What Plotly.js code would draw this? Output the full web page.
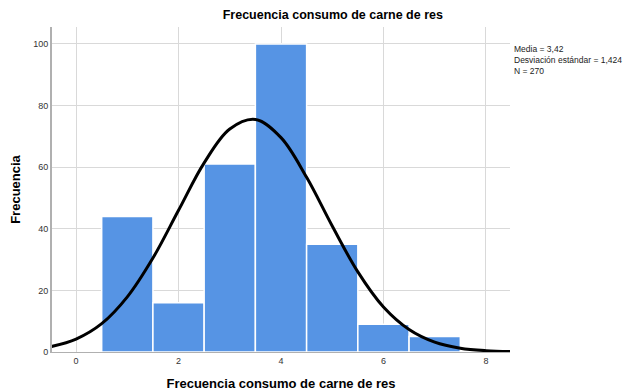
<!DOCTYPE html>
<html><head><meta charset="utf-8">
<script src="https://cdn.plot.ly/plotly-3.0.1.min.js"></script>
<style>html,body{margin:0;padding:0;background:#fff}</style>
</head><body>
<div id="chart" style="width:628px;height:392px"></div>
<script>
// Histogram bins (category value) and frequencies
const binCenters = [1, 2, 3, 4, 5, 6, 7];
const frequencies = [44, 16, 61, 100, 35, 9, 5];
// Fitted normal curve
const curveX = [-0.5, 0, 0.5, 1, 1.5, 2, 2.5, 3, 3.5, 4, 4.5, 5, 5.5, 6, 6.5, 7, 7.5, 8, 8.5];
const curveY = [1.7, 4.2, 9.2, 17.9, 30.5, 46.0, 61.4, 72.4, 75.5, 69.6, 56.7, 40.9, 26.0, 14.6, 7.3, 3.2, 1.25, 0.43, 0.13];
const statsLines = ["Media = 3,42", "Desviación estándar = 1,424", "N = 270"];
const xTicks = [0, 2, 4, 6, 8];
const yTicks = [0, 20, 40, 60, 80, 100];

const font = "Liberation Sans, Arial, sans-serif";
const data = [
  {type: 'bar', x: binCenters, y: frequencies, width: 1,
   marker: {color: '#5694e4', line: {color: '#ffffff', width: 1.5}},
   hoverinfo: 'skip'},
  {type: 'scatter', mode: 'lines', x: curveX, y: curveY,
   line: {color: '#000000', width: 3, shape: 'spline', smoothing: 1.0},
   hoverinfo: 'skip'}
];
const layout = {
  width: 628, height: 392,
  margin: {l: 52, r: 118, t: 27, b: 40},
  paper_bgcolor: '#ffffff', plot_bgcolor: '#ffffff',
  showlegend: false,
  font: {family: font, color: '#222222'},
  title: {text: '<b>Frecuencia consumo de carne de res</b>', font: {size: 12.5, color: '#000000', family: font},
          x: 0.53, xanchor: 'center', y: 0.962, yanchor: 'middle'},
  xaxis: {range: [-0.47, 8.47], tickvals: xTicks, ticktext: xTicks.map(String),
          showgrid: true, gridcolor: '#d9d9d9', gridwidth: 1, zeroline: false,
          showline: true, linecolor: '#b0b0b0', linewidth: 1, ticks: '',
          tickfont: {size: 9, color: '#333333'}, ticklen: 0,
          title: {text: '<b>Frecuencia consumo de carne de res</b>', font: {size: 13, color: '#000000', family: font}, standoff: 14}},
  yaxis: {range: [0, 105.5], tickvals: yTicks, ticktext: yTicks.map(String),
          showgrid: true, gridcolor: '#d9d9d9', gridwidth: 1, zeroline: false,
          showline: true, linecolor: '#b0b0b0', linewidth: 2, ticks: '',
          tickfont: {size: 9, color: '#333333'},
          title: {text: '<b>Frecuencia</b>', font: {size: 13, color: '#000000', family: font}, standoff: 10}},
  annotations: [{
    xref: 'paper', yref: 'paper', x: 1.005, y: 0.955, xanchor: 'left', yanchor: 'top',
    text: statsLines.join('<br>'), showarrow: false, align: 'left',
    font: {size: 8.5, color: '#222222', family: font}
  }]
};
Plotly.newPlot('chart', data, layout, {displayModeBar: false, staticPlot: true});
</script>
</body></html>
